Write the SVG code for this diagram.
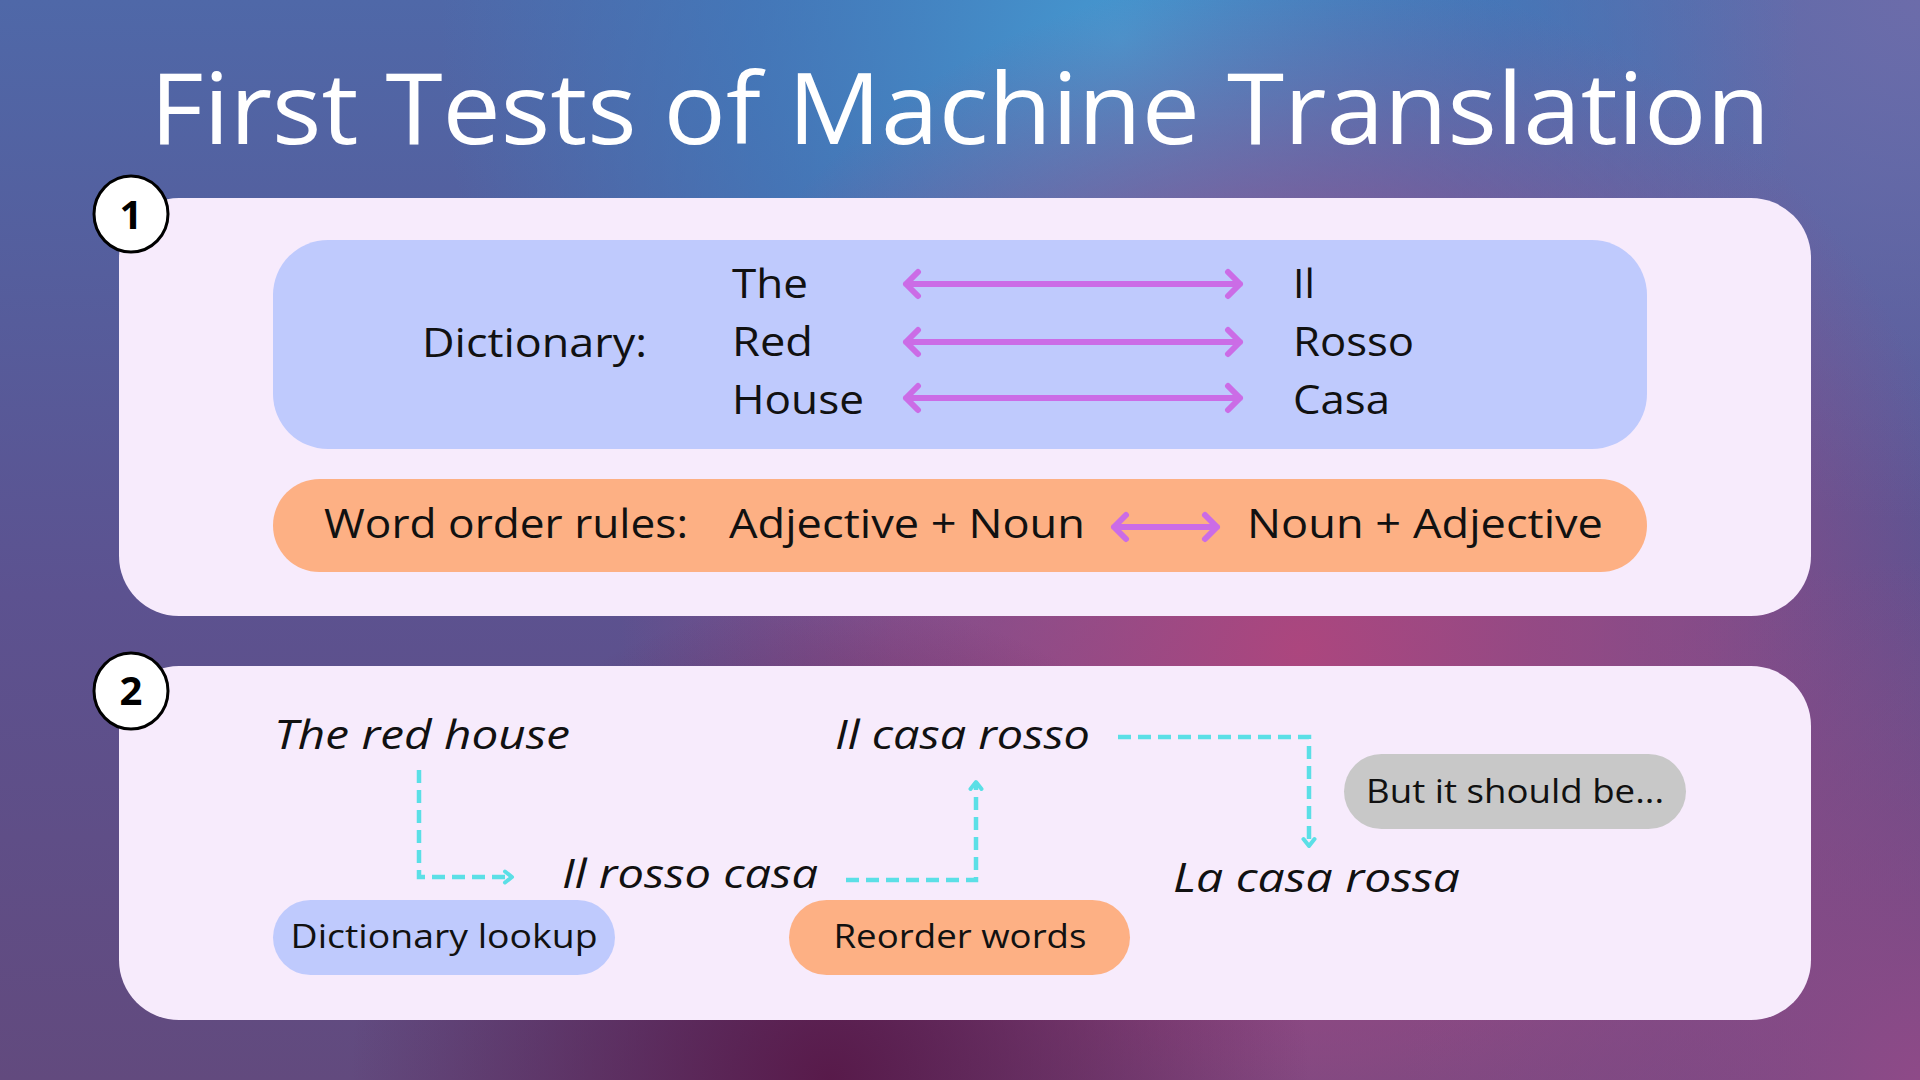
<svg xmlns="http://www.w3.org/2000/svg" width="1920" height="1080" viewBox="0 0 1920 1080">
<defs>
<linearGradient id="bg" x1="0" y1="0" x2="0" y2="1">
<stop offset="0" stop-color="#4F68A8"/>
<stop offset="0.55" stop-color="#5C5290"/>
<stop offset="1" stop-color="#624A7E"/>
</linearGradient>
<radialGradient id="glowTR" cx="1920" cy="0" r="520" gradientUnits="userSpaceOnUse">
<stop offset="0" stop-color="#6C6CAA" stop-opacity="1"/>
<stop offset="1" stop-color="#6C6CAA" stop-opacity="0"/>
</radialGradient>
<radialGradient id="glowTop" cx="1120" cy="40" r="680" gradientUnits="userSpaceOnUse">
<stop offset="0" stop-color="#4598D0" stop-opacity="1"/>
<stop offset="0.55" stop-color="#3E7EC0" stop-opacity="0.65"/>
<stop offset="1" stop-color="#3E7EC0" stop-opacity="0"/>
</radialGradient>
<radialGradient id="glowPink" cx="1300" cy="650" r="680" gradientUnits="userSpaceOnUse">
<stop offset="0" stop-color="#AC467E" stop-opacity="1"/>
<stop offset="0.6" stop-color="#A04884" stop-opacity="0.6"/>
<stop offset="1" stop-color="#A04884" stop-opacity="0"/>
</radialGradient>
<radialGradient id="glowBR" cx="1920" cy="1080" r="520" gradientUnits="userSpaceOnUse">
<stop offset="0" stop-color="#8E4A88" stop-opacity="1"/>
<stop offset="1" stop-color="#8E4A88" stop-opacity="0"/>
</radialGradient>
<radialGradient id="glowDark" cx="830" cy="1080" r="480" gradientUnits="userSpaceOnUse">
<stop offset="0" stop-color="#581A4A" stop-opacity="1"/>
<stop offset="1" stop-color="#581A4A" stop-opacity="0"/>
</radialGradient>
<marker id="chev" viewBox="0 0 16 16" refX="11" refY="8" markerWidth="16" markerHeight="16" markerUnits="userSpaceOnUse" orient="auto-start-reverse">
<path d="M4,2.5 L11,8 L4,13.5" fill="none" stroke="#5BDFE6" stroke-width="4" stroke-linecap="round" stroke-linejoin="round"/>
</marker>
<style>
.panel{fill:#F7EBFC}
.txt{font-family:"Open Sans","Liberation Sans",sans-serif;fill:#111}
.big{font-size:41px}
.it{font-style:italic;font-size:41px}
.pill{font-size:32px}
.num{font-family:"Open Sans","Liberation Sans",sans-serif;font-weight:700;font-size:40px;fill:#000}
.darr{fill:none;stroke:#CB6CE6;stroke-width:6;stroke-linecap:round;stroke-linejoin:round}
.dash{fill:none;stroke:#5BDFE6;stroke-width:4.5;stroke-dasharray:13 7}
</style>
</defs>
<rect width="1920" height="1080" fill="url(#bg)"/>
<rect width="1920" height="1080" fill="url(#glowTR)"/>
<rect width="1920" height="1080" fill="url(#glowTop)"/>
<rect width="1920" height="1080" fill="url(#glowPink)"/>
<rect width="1920" height="1080" fill="url(#glowBR)"/>
<rect width="1920" height="1080" fill="url(#glowDark)"/>

<text x="960" y="144" text-anchor="middle" font-family="'Open Sans','Liberation Sans',sans-serif" font-size="98" fill="#FFFFFF" textLength="1620" lengthAdjust="spacingAndGlyphs">First Tests of Machine Translation</text>

<g id="panel1">
<rect class="panel" x="119" y="198" width="1692" height="418" rx="60"/>
</g>
<g id="badge1">
<ellipse cx="131" cy="214" rx="37" ry="38" fill="#FFFFFF" stroke="#000" stroke-width="3"/>
<text class="num" x="131" y="229" text-anchor="middle">1</text>
</g>

<g id="dictionary">
<rect x="273" y="240" width="1374" height="209" rx="55" fill="#BFCAFD"/>
<text class="txt big" x="422" y="357" textLength="225" lengthAdjust="spacingAndGlyphs">Dictionary:</text>
<text class="txt big" x="732" y="298" textLength="76" lengthAdjust="spacingAndGlyphs">The</text>
<text class="txt big" x="732" y="356" textLength="81" lengthAdjust="spacingAndGlyphs">Red</text>
<text class="txt big" x="732" y="414" textLength="132" lengthAdjust="spacingAndGlyphs">House</text>
<text class="txt big" x="1293" y="298">Il</text>
<text class="txt big" x="1293" y="356" textLength="121" lengthAdjust="spacingAndGlyphs">Rosso</text>
<text class="txt big" x="1293" y="414" textLength="97" lengthAdjust="spacingAndGlyphs">Casa</text>
</g>

<g id="wordorder">
<rect x="273" y="479" width="1374" height="93" rx="46.5" fill="#FDB084"/>
<text class="txt big" x="324" y="538" textLength="364" lengthAdjust="spacingAndGlyphs">Word order rules:</text>
<text class="txt big" x="729" y="538" textLength="356" lengthAdjust="spacingAndGlyphs">Adjective + Noun</text>
<text class="txt big" x="1247" y="538" textLength="356" lengthAdjust="spacingAndGlyphs">Noun + Adjective</text>
</g>

<g id="panel2">
<rect class="panel" x="119" y="666" width="1692" height="354" rx="60"/>
</g>
<g id="badge2">
<ellipse cx="131" cy="691" rx="37" ry="38" fill="#FFFFFF" stroke="#000" stroke-width="3"/>
<text class="num" x="131" y="705" text-anchor="middle">2</text>
</g>

<g id="src"><text class="txt it" x="274" y="749" textLength="296" lengthAdjust="spacingAndGlyphs">The red house</text></g>
<g id="step1"><text class="txt it" x="562" y="888" textLength="256" lengthAdjust="spacingAndGlyphs">Il rosso casa</text></g>
<g id="step2"><text class="txt it" x="835" y="749" textLength="255" lengthAdjust="spacingAndGlyphs">Il casa rosso</text></g>
<g id="correct"><text class="txt it" x="1173" y="892" textLength="287" lengthAdjust="spacingAndGlyphs">La casa rossa</text></g>

<g id="lookup">
<rect x="273" y="900" width="342" height="75" rx="37.5" fill="#BFCAFD"/>
<text class="txt pill" x="444" y="948" text-anchor="middle" textLength="307" lengthAdjust="spacingAndGlyphs">Dictionary lookup</text>
</g>
<g id="reorder">
<rect x="789" y="900" width="341" height="75" rx="37.5" fill="#FDB084"/>
<text class="txt pill" x="960" y="948" text-anchor="middle" textLength="253" lengthAdjust="spacingAndGlyphs">Reorder words</text>
</g>
<g id="should">
<rect x="1344" y="754" width="342" height="75" rx="37.5" fill="#C8C8C8"/>
<text class="txt pill" x="1515" y="803" text-anchor="middle" textLength="298" lengthAdjust="spacingAndGlyphs">But it should be...</text>
</g>

<g id="connectors">
<path class="darr" d="M906,284 H1240 M918,272 L906,284 L918,296 M1228,272 L1240,284 L1228,296"/>
<path class="darr" d="M906,342 H1240 M918,330 L906,342 L918,354 M1228,330 L1240,342 L1228,354"/>
<path class="darr" d="M906,398 H1240 M918,386 L906,398 L918,410 M1228,386 L1240,398 L1228,410"/>
<path class="darr" d="M1114,527 H1217 M1126,515 L1114,527 L1126,539 M1205,515 L1217,527 L1205,539"/>
<path class="dash" d="M419,770 V877 H512" marker-end="url(#chev)"/>
<path class="dash" d="M846,880 H976 V782" marker-end="url(#chev)"/>
<path class="dash" d="M1118,737 H1309 V846" marker-end="url(#chev)"/>
</g>
</svg>
